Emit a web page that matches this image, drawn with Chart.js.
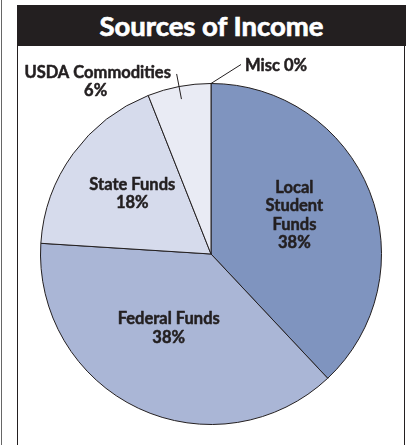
<!DOCTYPE html>
<html>
<head>
<meta charset="utf-8">
<script src="https://cdn.jsdelivr.net/npm/chart.js@4.4.0/dist/chart.umd.min.js"></script>
<style>
  body { margin: 0; background: #fff; width: 413px; height: 445px; overflow: hidden; position: relative; }
  #edge { position: absolute; left: 1px; top: 0; width: 1px; height: 445px; background: #666; }
  #panel { position: absolute; left: 17px; top: 5px; width: 386px; height: 460px; border-left: 1.5px solid #231f20; border-right: 1.5px solid #231f20; }
  #title { position: absolute; left: 17px; top: 5px; width: 389px; height: 41px; background: #231f20; color: #fff;
           font: bold 27.5px Lato, sans-serif; text-align: center; line-height: 41px; -webkit-text-stroke: 0.7px #fff; }
  #chart { position: absolute; left: 0; top: 0; }
</style>
</head>
<body>
<div id="edge"></div>
<div id="panel"></div>
<div id="title">Sources of Income</div>
<canvas id="chart" width="413" height="445"></canvas>
<script>
// Data
const categories = [['Local', 'Student', 'Funds'], ['Federal Funds'], ['State Funds'], ['USDA Commodities'], ['Misc']];
const shares = [38, 38, 18, 6, 0];
const sliceColors = ['#7f94bf', '#aab6d6', '#d6dbec', '#e9ebf4', '#f4f5fa'];

// How each label sits: inside at a fraction of the radius, or outside with a leader line
const labelStyle = [
    { kind: 'inside', frac: 0.526, dx: 0, dy: -6 },
    { kind: 'inside', frac: 0.5, dx: -6, dy: -3 },
    { kind: 'inside', frac: 0.585, dx: 2, dy: -2 },
    { kind: 'leader', from: 0.925, to: 1.075, textDx: -79, textDy: -1 },
    { kind: 'misc', lineDx: 30, lineDy: -19, textDx: 4, textDy: 1 }
];

const lineH = 18.4;
const textColor = '#231f20';

function boldText(ctx, t, x, y) {
    ctx.fillText(t, x, y);
    ctx.strokeText(t, x, y);
}

const pieLabels = {
    id: 'pieLabels',
    afterDatasetsDraw(chart) {
        const ctx = chart.ctx;
        const arcs = chart.getDatasetMeta(0).data;
        ctx.save();
        ctx.font = 'bold 16.5px Lato, sans-serif';
        ctx.fillStyle = textColor;
        ctx.strokeStyle = textColor;
        ctx.textBaseline = 'middle';
        ctx.lineJoin = 'round';
        arcs.forEach((arc, i) => {
            const p = arc.getProps(['x', 'y', 'startAngle', 'endAngle', 'outerRadius'], true);
            const mid = (p.startAngle + p.endAngle) / 2;
            const st = labelStyle[i];
            const pct = shares[i] + '%';
            ctx.lineWidth = 0.5;
            if (st.kind === 'inside') {
                const lines = categories[i].concat([pct]);
                const cx = p.x + Math.cos(mid) * p.outerRadius * st.frac + st.dx;
                const cy = p.y + Math.sin(mid) * p.outerRadius * st.frac + st.dy;
                ctx.textAlign = 'center';
                lines.forEach((t, k) => {
                    boldText(ctx, t, cx, cy + (k - (lines.length - 1) / 2) * lineH);
                });
            } else if (st.kind === 'leader') {
                const x1 = p.x + Math.cos(mid) * p.outerRadius * st.from;
                const y1 = p.y + Math.sin(mid) * p.outerRadius * st.from;
                const x2 = p.x + Math.cos(mid) * p.outerRadius * st.to;
                const y2 = p.y + Math.sin(mid) * p.outerRadius * st.to;
                ctx.textAlign = 'center';
                boldText(ctx, categories[i][0], x2 + st.textDx, y2 + st.textDy);
                boldText(ctx, pct, x2 + st.textDx - 2, y2 + st.textDy + 18);
                ctx.lineWidth = 1;
                ctx.beginPath();
                ctx.moveTo(x1, y1);
                ctx.lineTo(x2, y2);
                ctx.stroke();
            } else {
                const x1 = p.x + Math.cos(p.endAngle) * p.outerRadius;
                const y1 = p.y + Math.sin(p.endAngle) * p.outerRadius;
                const x2 = x1 + st.lineDx;
                const y2 = y1 + st.lineDy;
                ctx.textAlign = 'left';
                boldText(ctx, categories[i][0] + ' ' + pct, x2 + st.textDx, y2 + st.textDy);
                ctx.lineWidth = 1;
                ctx.beginPath();
                ctx.moveTo(x1, y1);
                ctx.lineTo(x2, y2);
                ctx.stroke();
            }
        });
        ctx.restore();
    }
};

new Chart(document.getElementById('chart').getContext('2d'), {
    type: 'pie',
    data: {
        labels: categories.map(c => c.join(' ')),
        datasets: [{
            data: shares,
            backgroundColor: sliceColors,
            borderColor: '#231f20',
            borderWidth: 1
        }]
    },
    options: {
        responsive: false,
        animation: false,
        events: [],
        layout: { padding: { left: 40, right: 31, top: 83, bottom: 20 } },
        plugins: {
            legend: { display: false },
            tooltip: { enabled: false },
            title: { display: false }
        }
    },
    plugins: [pieLabels]
});
</script>
</body>
</html>
